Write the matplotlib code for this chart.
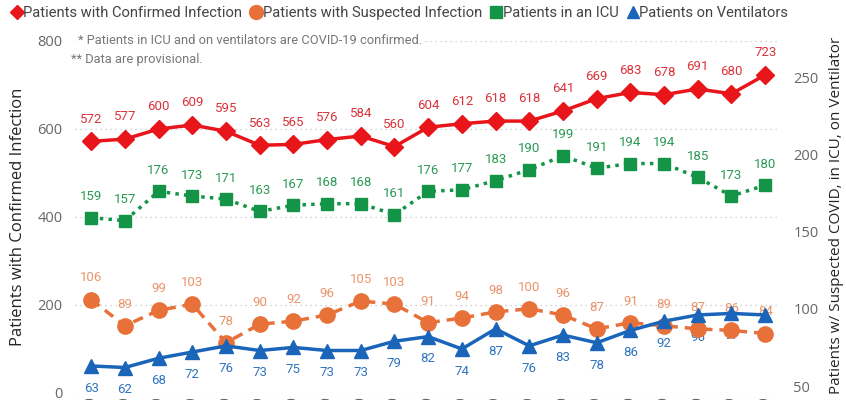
import matplotlib
matplotlib.use("Agg")
import matplotlib.pyplot as plt
from matplotlib.lines import Line2D

dates = ["4/%d/2020" % d for d in range(1, 22)]
confirmed = [572, 577, 600, 609, 595, 563, 565, 576, 584, 560, 604, 612, 618, 618, 641, 669, 683, 678, 691, 680, 723]
icu = [159, 157, 176, 173, 171, 163, 167, 168, 168, 161, 176, 177, 183, 190, 199, 191, 194, 194, 185, 173, 180]
suspected = [106, 89, 99, 103, 78, 90, 92, 96, 105, 103, 91, 94, 98, 100, 96, 87, 91, 89, 87, 86, 84]
ventilators = [63, 62, 68, 72, 76, 73, 75, 73, 73, 79, 82, 74, 87, 76, 83, 78, 86, 92, 96, 97, 96]

left_ticks = [0, 200, 400, 600, 800]
right_ticks = [50, 100, 150, 200, 250]

FN = ["Roboto", "DejaVu Sans"]
FT = ["Open Sans", "DejaVu Sans"]

RED, RED_L = "#E8151B", "#D9343B"
GRN, GRN_L = "#139447", "#2B9A55"
ORG, ORG_L = "#E8713A", "#E8885A"
BLU, BLU_L = "#1A65BA", "#2F74BF"

fig = plt.figure(figsize=(8.46, 4.0), dpi=100)
ax = fig.add_axes([75 / 846, 7 / 400, (778 - 75) / 846, (393 - 41) / 400])
ax2 = ax.twinx()

x = list(range(len(dates)))
ax.set_xlim(-0.48, 20.38)
ax.set_ylim(0, 800)
ax2.set_ylim(45.5, 273.3)

for a in (ax, ax2):
    for s in a.spines.values():
        s.set_visible(False)
    a.tick_params(length=0)

ax.set_yticks(left_ticks)
ax.set_yticklabels([str(t) for t in left_ticks], fontsize=10.5, color="#666666", family=FT)
ax.tick_params(axis="y", pad=9)
ax2.set_yticks(right_ticks)
ax2.set_yticklabels([str(t) for t in right_ticks], fontsize=10.5, color="#666666", family=FT)
ax2.tick_params(axis="y", pad=11)
ax.grid(axis="y", linestyle=(0, (1, 3)), color="#C4C4C4", linewidth=0.9)
ax.set_axisbelow(True)

ax.set_xticks(x)
ax.set_xticklabels(dates, rotation=90, fontsize=10, color="#666666", family=FT)
ax.tick_params(axis="x", pad=2)

ax.set_ylabel("Patients with Confirmed Infection", fontsize=12, color="#252525", family=FT)
ax.yaxis.set_label_coords((26 - 75) / (778 - 75), 0.5)
ax2.set_ylabel("Patients w/ Suspected COVID, in ICU, on Ventilator", fontsize=11, color="#252525", family=FT,
               rotation=90)
ax2.yaxis.set_label_coords((829 - 75) / (778 - 75), (393 - 215) / (393 - 41))

# lines
ax.plot(x, confirmed, color=RED, lw=2.5, marker="D", ms=9, zorder=5)
ax2.plot(x, icu, color=GRN, lw=2.5, ls=(0, (1, 1.5)), marker="s", ms=9, zorder=5)
ax2.plot(x, suspected, color=ORG, lw=2.5, ls=(0, (3, 2)), marker="o", ms=11, zorder=4)
ax2.plot(x, ventilators, color=BLU, lw=2.5, marker="^", ms=10, zorder=5)

for xi, v in zip(x, confirmed):
    ax.annotate(str(v), (xi, v), xytext=(0, 16), textcoords="offset points", ha="center", va="center",
                fontsize=9.5, color=RED_L, family=FN)
for xi, v in zip(x, icu):
    ax2.annotate(str(v), (xi, v), xytext=(0, 15), textcoords="offset points", ha="center", va="center",
                 fontsize=9.5, color=GRN_L, family=FN)
for xi, v in zip(x, suspected):
    ax2.annotate(str(v), (xi, v), xytext=(0, 15.5), textcoords="offset points", ha="center", va="center",
                 fontsize=9.5, color=ORG_L, family=FN, alpha=0.9)
for xi, v in zip(x, ventilators):
    ax2.annotate(str(v), (xi, v), xytext=(0, -16), textcoords="offset points", ha="center", va="center",
                 fontsize=9.5, color=BLU_L, family=FN)

# notes
fig.text(78 / 846, 1 - 40 / 400, "* Patients in ICU and on ventilators are COVID-19 confirmed.", fontsize=9.3,
         color="#777777", family=FN, va="center", ha="left",
         bbox=dict(facecolor="white", edgecolor="none", pad=1.5))
fig.text(71 / 846, 1 - 60 / 400, "** Data are provisional.", fontsize=9.3,
         color="#777777", family=FN, va="center", ha="left")

handles = [
    Line2D([], [], color=RED, marker="D", ls="none", ms=7),
    Line2D([], [], color=ORG, marker="o", ls="none", ms=10),
    Line2D([], [], color=GRN, marker="s", ls="none", ms=9),
    Line2D([], [], color=BLU, marker="^", ls="none", ms=9),
]
labels = ["Patients with Confirmed Infection", "Patients with Suspected Infection",
          "Patients in an ICU", "Patients on Ventilators"]
fig.legend(handles, labels, loc="center left", bbox_to_anchor=(-0.002, 1 - 13 / 400), ncol=4, frameon=False,
           handlelength=0.7, handletextpad=0.1, columnspacing=0.6,
           prop={"family": FN, "size": 10.6}, labelcolor="#444444")

fig.savefig("out.png", dpi=100)
